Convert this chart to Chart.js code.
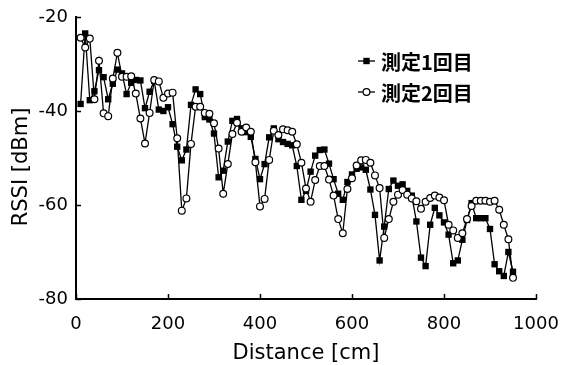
<!DOCTYPE html>
<html><head><meta charset="utf-8">
<script src="https://cdn.jsdelivr.net/npm/chart.js@4.4.1/dist/chart.umd.min.js"></script>
<style>html,body{margin:0;padding:0;background:#fff}#wrap{width:561px;height:365px}</style>
</head><body><div id="wrap"><canvas id="c" width="561" height="365"></canvas></div>
<script>
const distances = [10,20,30,40,50,60,70,80,90,100,110,120,130,140,150,160,170,180,190,200,
  210,220,230,240,250,260,270,280,290,300,310,320,330,340,350,360,370,380,390,400,
  410,420,430,440,450,460,470,480,490,500,510,520,530,540,550,560,570,580,590,600,
  610,620,630,640,650,660,670,680,690,700,710,720,730,740,750,760,770,780,790,800,
  810,820,830,840,850,860,870,880,890,900,910,920,930,940,950];
const run1 = [-38.5,-23.5,-37.7,-35.8,-31.3,-32.8,-37.5,-34.2,-31.2,-32.0,
  -36.4,-34.0,-33.4,-33.5,-39.4,-35.9,-33.6,-39.7,-40.0,-39.2,
  -42.8,-47.6,-50.5,-48.2,-38.7,-35.4,-36.4,-41.3,-41.8,-44.8,
  -54.1,-52.7,-46.5,-42.1,-41.7,-43.7,-44.5,-45.5,-50.2,-54.5,
  -51.3,-45.6,-43.7,-46.0,-46.6,-47.0,-47.3,-51.7,-58.9,-57.0,
  -52.9,-49.5,-48.3,-48.2,-51.2,-54.5,-57.6,-58.9,-55.1,-53.5,
  -52.3,-52.0,-52.5,-56.7,-62.1,-71.8,-64.6,-56.6,-54.8,-55.9,
  -55.6,-57.0,-58.0,-63.5,-71.2,-73.0,-64.2,-60.6,-62.2,-63.7,
  -66.3,-72.4,-71.8,-67.4,-63.2,-59.6,-62.8,-62.8,-62.8,-65.1,
  -72.6,-74.1,-75.1,-70.0,-74.2];
const run2 = [-24.4,-26.5,-24.6,-37.5,-29.3,-40.5,-41.1,-33.1,-27.6,-32.7,
  -32.7,-32.6,-36.3,-41.6,-46.9,-40.4,-33.4,-33.7,-37.2,-36.3,
  -36.1,-45.8,-61.2,-58.6,-47.0,-39.1,-39.1,-40.4,-40.6,-42.6,
  -48.0,-57.6,-51.3,-44.9,-42.5,-44.4,-43.5,-44.4,-50.9,-60.3,
  -58.7,-50.4,-44.2,-45.1,-43.9,-44.1,-44.4,-47.1,-51.0,-56.5,
  -59.3,-54.7,-51.7,-51.7,-54.6,-58.0,-63.0,-66.0,-56.6,-54.3,
  -51.6,-50.5,-50.4,-51.0,-53.7,-56.4,-67.0,-63.0,-59.3,-57.8,
  -56.8,-57.8,-58.6,-59.2,-60.8,-59.3,-58.5,-58.0,-58.4,-59.0,
  -64.2,-65.4,-67.0,-66.0,-63.0,-60.2,-59.1,-59.1,-59.1,-59.3,
  -59.1,-61.0,-64.2,-67.3,-75.5];
const seriesNames = ['測定1回目', '測定2回目'];
const xTicks = [0, 200, 400, 600, 800, 1000];
const yTicks = [-80, -60, -40, -20];
const xTitle = 'Distance [cm]';
const yTitle = 'RSSI [dBm]';

const LATIN = "'DejaVu Sans', sans-serif";
const CJK = "'Noto Sans CJK JP', sans-serif";

function drawMarker(ctx, style, x, y) {
  ctx.save();
  ctx.lineWidth = 1.2;
  ctx.strokeStyle = '#000';
  if (style === 'rect') {
    ctx.fillStyle = '#000';
    ctx.fillRect(x - 3.2, y - 3.2, 6.4, 6.4);
  } else {
    ctx.fillStyle = '#fff';
    ctx.beginPath();
    ctx.arc(x, y, 3.4, 0, Math.PI * 2);
    ctx.fill();
    ctx.stroke();
  }
  ctx.restore();
}

const decor = {
  id: 'decor',
  afterDraw(chart) {
    const ctx = chart.ctx;
    const xs = chart.scales.x, ys = chart.scales.y;
    const area = chart.chartArea;
    ctx.save();
    ctx.strokeStyle = '#000';
    ctx.lineWidth = 1.5;
    ctx.beginPath();
    xTicks.forEach(v => {
      const px = Math.round(xs.getPixelForValue(v)) + 0.5;
      ctx.moveTo(px, area.bottom);
      ctx.lineTo(px, area.bottom - 5);
    });
    yTicks.forEach(v => {
      const py = Math.round(ys.getPixelForValue(v)) + 0.5;
      ctx.moveTo(area.left, py);
      ctx.lineTo(area.left + 5, py);
    });
    ctx.stroke();
    ctx.fillStyle = '#000';
    ctx.font = '21px ' + LATIN;
    ctx.textAlign = 'center';
    ctx.textBaseline = 'middle';
    ctx.translate(22, 167);
    ctx.rotate(-Math.PI / 2);
    ctx.fillText(yTitle, 0, 0);
    ctx.restore();

    ctx.save();
    const rows = [61, 92];
    chart.data.datasets.slice().sort((a, b) => a.legendIndex - b.legendIndex).forEach((ds, i) => {
      const y = rows[i];
      ctx.strokeStyle = '#000';
      ctx.lineWidth = 1.3;
      ctx.beginPath();
      ctx.moveTo(358, y);
      ctx.lineTo(375, y);
      ctx.stroke();
      drawMarker(ctx, ds.pointStyle, 366.5, y);
      ctx.fillStyle = '#000';
      ctx.font = 'bold 20px ' + CJK;
      ctx.textAlign = 'left';
      ctx.textBaseline = 'middle';
      ctx.fillText(ds.label, 381, y + 1);
    });
    ctx.restore();
  }
};

const pts1 = distances.map((d, i) => ({ x: d, y: run1[i] }));
const pts2 = distances.map((d, i) => ({ x: d, y: run2[i] }));

new Chart(document.getElementById('c'), {
  type: 'line',
  data: {
    datasets: [
      { label: seriesNames[0], legendIndex: 0, data: pts1, order: 2,
        borderColor: '#000', borderWidth: 1.3, pointStyle: 'rect', pointRadius: 4.5,
        pointBackgroundColor: '#000', pointBorderColor: '#000', pointBorderWidth: 0, tension: 0 },
      { label: seriesNames[1], legendIndex: 1, data: pts2, order: 1,
        borderColor: '#000', borderWidth: 1.3, pointStyle: 'circle', pointRadius: 3.4,
        pointBackgroundColor: '#fff', pointBorderColor: '#000', pointBorderWidth: 1.2, tension: 0 }
    ]
  },
  options: {
    responsive: false,
    devicePixelRatio: 1,
    animation: false,
    layout: { padding: { left: 0, top: 17, right: 25, bottom: 0 } },
    plugins: { legend: { display: false }, tooltip: { enabled: false } },
    scales: {
      x: {
        type: 'linear', min: 0, max: 1000,
        afterBuildTicks: s => { s.ticks = xTicks.map(v => ({ value: v })); },
        afterFit: s => { s.height = 66; s.paddingLeft = 0; s.paddingRight = 0; },
        grid: { display: false, drawTicks: false },
        border: { display: true, color: '#000', width: 2 },
        ticks: { color: '#000', font: { family: LATIN, size: 18 }, padding: 15, maxRotation: 0, autoSkip: false,
                 callback: v => String(v) },
        title: { display: true, text: xTitle, color: '#000', font: { family: LATIN, size: 21, lineHeight: 1 }, padding: { top: 0, bottom: 1 } }
      },
      y: {
        type: 'linear', min: -80, max: -20,
        afterBuildTicks: s => { s.ticks = yTicks.map(v => ({ value: v })); },
        afterFit: s => { s.width = 76; s.paddingTop = 0; s.paddingBottom = 0; },
        grid: { display: false, drawTicks: false },
        border: { display: true, color: '#000', width: 2 },
        ticks: { color: '#000', font: { family: LATIN, size: 18 }, padding: 8, autoSkip: false,
                 callback: v => String(v) }
      }
    }
  },
  plugins: [decor]
});
</script>
</body></html>
